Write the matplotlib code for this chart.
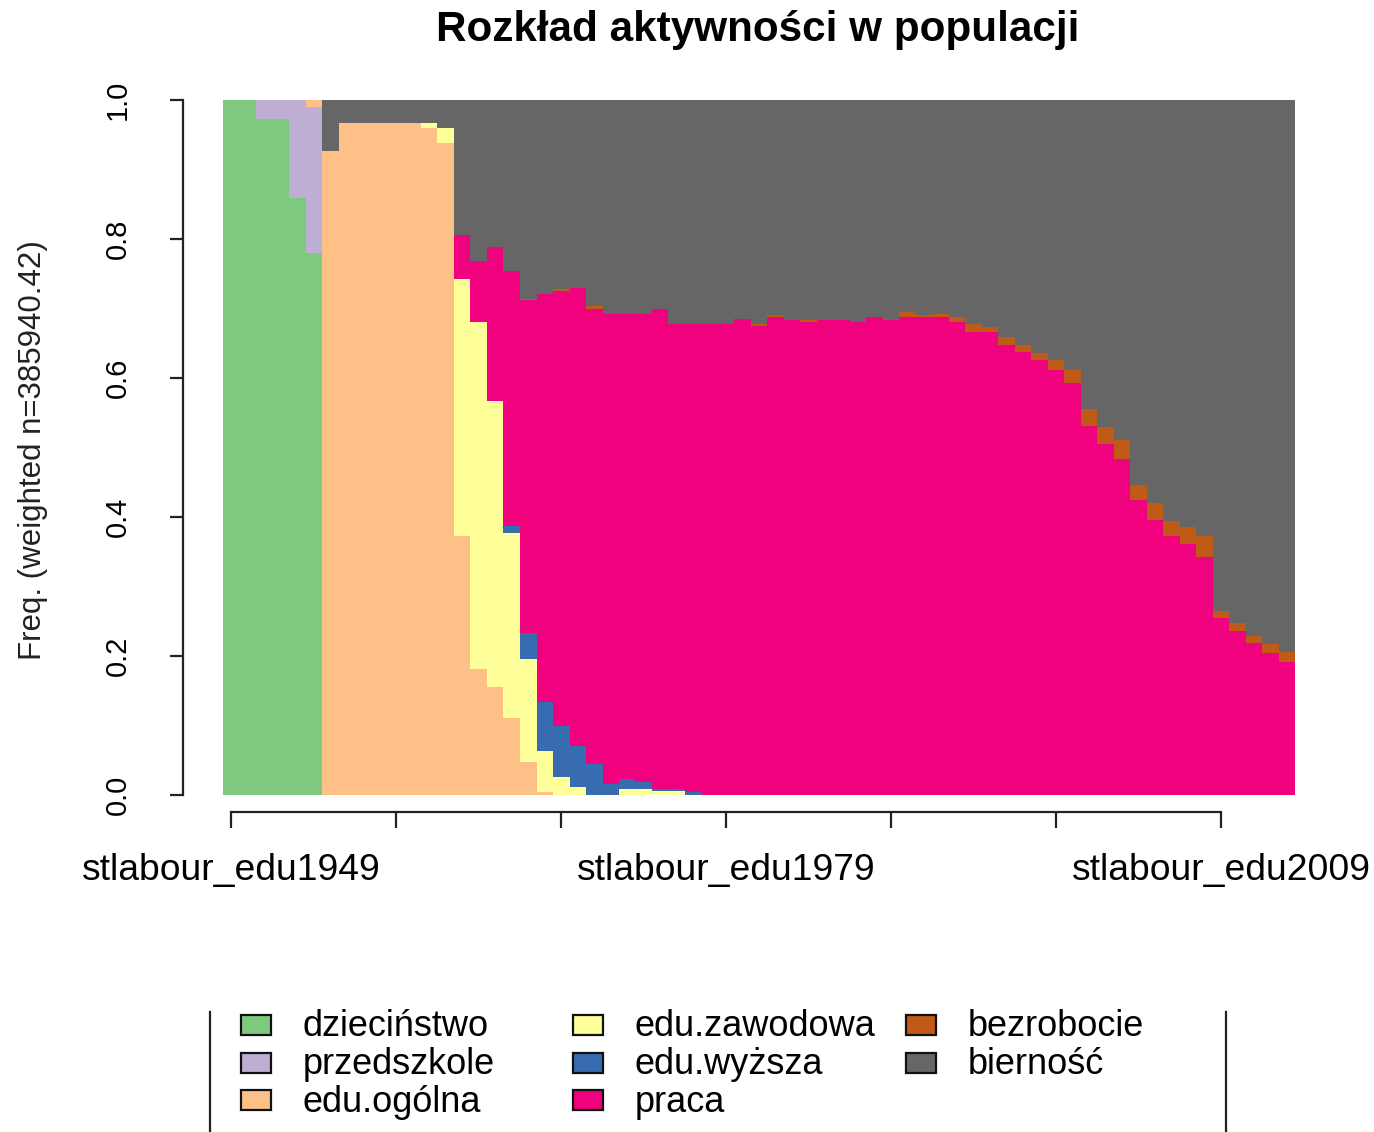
import matplotlib
matplotlib.use("Agg")
import matplotlib.pyplot as plt
from matplotlib.patches import Rectangle
import numpy as np

plt.rcParams['font.family'] = ['Liberation Sans', 'DejaVu Sans']

# kolumny sekwencji (1949..2013)
years = list(range(1949, 2014))
tick_years = [1949, 1959, 1969, 1979, 1989, 1999, 2009]
tick_labels = ['stlabour_edu1949', '', '', 'stlabour_edu1979', '', '', 'stlabour_edu2009']

states = ['dzieciństwo', 'przedszkole', 'edu.ogólna', 'edu.zawodowa',
          'edu.wyższa', 'praca', 'bezrobocie', 'bierność']
colors = ['#7FC97F', '#BEAED4', '#FDC086', '#FFFF99',
          '#386CB0', '#F0027F', '#BF5B17', '#666666']

# odczytane czestosci (65 kolumn na stan)
dziecinstwo = [1, 1, .973, .973, .859, .780, 0, 0, 0, 0, 0, 0, 0,
               0, 0, 0, 0, 0, 0, 0, 0, 0, 0, 0, 0, 0,
               0, 0, 0, 0, 0, 0, 0, 0, 0, 0, 0, 0, 0,
               0, 0, 0, 0, 0, 0, 0, 0, 0, 0, 0, 0, 0,
               0, 0, 0, 0, 0, 0, 0, 0, 0, 0, 0, 0, 0]
przedszkole = [0, 0, .027, .027, .141, .210, 0, 0, 0, 0, 0, 0, 0,
               0, 0, 0, 0, 0, 0, 0, 0, 0, 0, 0, 0, 0,
               0, 0, 0, 0, 0, 0, 0, 0, 0, 0, 0, 0, 0,
               0, 0, 0, 0, 0, 0, 0, 0, 0, 0, 0, 0, 0,
               0, 0, 0, 0, 0, 0, 0, 0, 0, 0, 0, 0, 0]
edu_ogolna = [0, 0, 0, 0, 0, .010, .927, .967, .967, .967, .967, .967, .960,
              .938, .373, .181, .155, .111, .047, .004, 0, 0, 0, 0, 0, 0,
              0, 0, 0, 0, 0, 0, 0, 0, 0, 0, 0, 0, 0,
              0, 0, 0, 0, 0, 0, 0, 0, 0, 0, 0, 0, 0,
              0, 0, 0, 0, 0, 0, 0, 0, 0, 0, 0, 0, 0]
edu_zawodowa = [0, 0, 0, 0, 0, 0, 0, 0, 0, 0, 0, 0, .007,
                .022, .369, .500, .412, .266, .149, .059, .026, .012, 0, 0, .008, .008,
                .006, .006, 0, 0, 0, 0, 0, 0, 0, 0, 0, 0, 0,
                0, 0, 0, 0, 0, 0, 0, 0, 0, 0, 0, 0, 0,
                0, 0, 0, 0, 0, 0, 0, 0, 0, 0, 0, 0, 0]
edu_wyzsza = [0, 0, 0, 0, 0, 0, 0, 0, 0, 0, 0, 0, 0,
              0, 0, 0, 0, .010, .037, .071, .074, .059, .045, .016, .015, .011,
              .002, .002, .004, 0, 0, 0, 0, 0, 0, 0, 0, 0, 0,
              0, 0, 0, 0, 0, 0, 0, 0, 0, 0, 0, 0, 0,
              0, 0, 0, 0, 0, 0, 0, 0, 0, 0, 0, 0, 0]
praca = [0, 0, 0, 0, 0, 0, 0, 0, 0, 0, 0, 0, 0,
         0, .064, .088, .221, .367, .479, .587, .625, .658, .655, .676, .669, .673,
         .691, .670, .674, .678, .678, .685, .675, .688, .684, .681, .684, .684, .681,
         .688, .684, .688, .688, .688, .681, .666, .666, .648, .637, .626, .612, .593,
         .531, .505, .483, .424, .395, .373, .361, .343, .254, .236, .218, .204, .192]
bezrobocie = [0, 0, 0, 0, 0, 0, 0, 0, 0, 0, 0, 0, 0,
              0, 0, 0, 0, 0, .002, 0, .003, 0, .003, 0, 0, 0,
              0, 0, 0, 0, 0, 0, .002, .003, 0, .003, 0, 0, 0,
              0, 0, .007, .003, .004, .007, .011, .007, .011, .011, .010, .014, .019,
              .024, .025, .028, .022, .025, .021, .025, .029, .011, .011, .011, .013, .014]
biernosc = [0, 0, 0, 0, 0, 0, .073, .033, .033, .033, .033, .033, .033,
            .040, .194, .231, .212, .246, .286, .279, .272, .271, .297, .308, .308, .308,
            .301, .322, .322, .322, .322, .315, .323, .309, .316, .316, .316, .316, .319,
            .312, .316, .305, .309, .308, .312, .323, .327, .341, .352, .364, .374, .388,
            .445, .470, .489, .554, .580, .606, .614, .628, .735, .753, .771, .783, .794]

series = [dziecinstwo, przedszkole, edu_ogolna, edu_zawodowa,
          edu_wyzsza, praca, bezrobocie, biernosc]

W, H = 1374, 1132
fig = plt.figure(figsize=(W / 100, H / 100), dpi=100)

# obszar wykresu w pikselach
left, right, top, bottom = 223, 1295.5, 100, 795
ax = fig.add_axes([left / W, (H - bottom) / H, (right - left) / W, (bottom - top) / H])

x = np.arange(len(years))
base = np.zeros(len(years))
for vals, col in zip(series, colors):
    vals = np.array(vals, dtype=float)
    ax.bar(x, vals, bottom=base, width=1.0, color=col, linewidth=0)
    base += vals

ax.set_xlim(-0.5, len(years) - 0.5)
ax.set_ylim(0, 1)
for s in ['top', 'right']:
    ax.spines[s].set_visible(False)
ax.spines['left'].set_position(('outward', 29))
ax.spines['left'].set_bounds(0, 1)
ax.spines['bottom'].set_position(('outward', 12))
tick_pos = [years.index(t) for t in tick_years]
ax.spines['bottom'].set_bounds(tick_pos[0], tick_pos[-1])
for s in ['left', 'bottom']:
    ax.spines[s].set_linewidth(1.6)
    ax.spines[s].set_color('#222222')

ax.set_xticks(tick_pos)
ax.set_xticklabels(tick_labels, fontsize=26.8)
ax.tick_params(axis='x', length=11.5, width=1.6, color='#222222', pad=18)

yt = [0.0, 0.2, 0.4, 0.6, 0.8, 1.0]
ax.set_yticks(yt)
ax.set_yticklabels(['%.1f' % v for v in yt], fontsize=21, rotation=90,
                   va='center', ha='center')
ax.tick_params(axis='y', length=9.5, width=1.6, color='#222222', pad=37)

# warstwa na tytul, opis osi i legende
ov = fig.add_axes([0, 0, 1, 1], facecolor='none')
ov.set_xlim(0, W)
ov.set_ylim(H, 0)
ov.axis('off')

ov.text(758, 30, 'Rozkład aktywności w populacji', fontsize=30.4,
        fontweight='bold', ha='center', va='center')
ov.text(33, 450, 'Freq. (weighted n=385940.42)', fontsize=22.5,
        rotation=90, ha='center', va='center', color='#222222')

# legenda
ov.plot([210, 210], [1012, H], color='#222222', lw=1.6)
ov.plot([1226, 1226], [1012, H], color='#222222', lw=1.6)
col_x = [241, 573, 906]
row_y = [1025, 1062.5, 1100]
for i, (name, col) in enumerate(zip(states, colors)):
    cx = col_x[i // 3]
    cy = row_y[i % 3]
    ov.add_patch(Rectangle((cx, cy - 10), 30, 20, facecolor=col,
                           edgecolor='#111111', lw=1.6))
    ov.text(cx + 62, cy + 2, name, fontsize=26, ha='left', va='center')

fig.savefig('out.png', dpi=100)
